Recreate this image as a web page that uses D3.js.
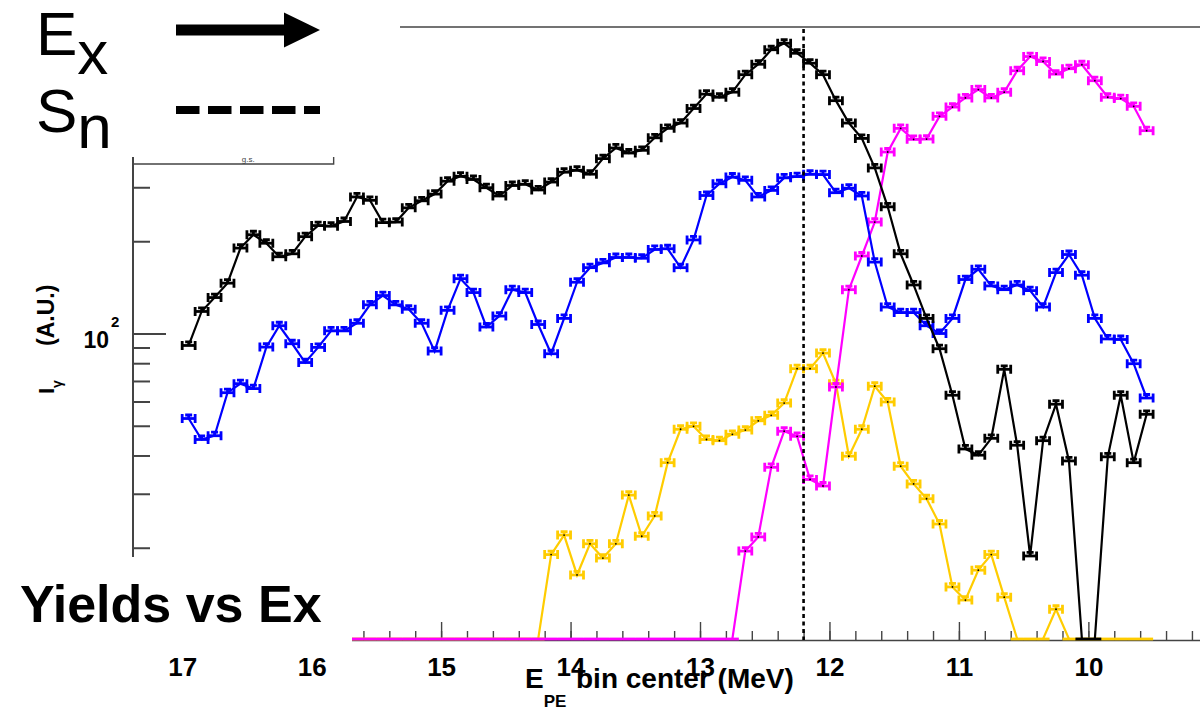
<!DOCTYPE html>
<html>
<head>
<meta charset="utf-8">
<script src="https://cdn.jsdelivr.net/npm/d3@7"></script>
<style>
  body { margin: 0; background: #fff; }
  svg { display: block; }
  text { font-family: "Liberation Sans", Arial, Helvetica, sans-serif; }
</style>
</head>
<body>
<svg id="chart" width="1200" height="711"></svg>
<script>
// bin centres of E_PE (MeV), 0.1 MeV bins
const binCenters = [16.95, 16.85, 16.75, 16.65, 16.55, 16.45, 16.35, 16.25, 16.15, 16.05,
  15.95, 15.85, 15.75, 15.65, 15.55, 15.45, 15.35, 15.25, 15.15, 15.05,
  14.95, 14.85, 14.75, 14.65, 14.55, 14.45, 14.35, 14.25, 14.15, 14.05,
  13.95, 13.85, 13.75, 13.65, 13.55, 13.45, 13.35, 13.25, 13.15, 13.05,
  12.95, 12.85, 12.75, 12.65, 12.55, 12.45, 12.35, 12.25, 12.15, 12.05,
  11.95, 11.85, 11.75, 11.65, 11.55, 11.45, 11.35, 11.25, 11.15, 11.05,
  10.95, 10.85, 10.75, 10.65, 10.55, 10.45, 10.35, 10.25, 10.15, 10.05,
  9.95, 9.85, 9.75, 9.65, 9.55];
const binWidth = 0.1;

// I_gamma (A.U.), 0 = empty bin (drawn on the floor)
const yieldBlack = [91.4, 118, 131, 146, 190, 210, 197, 178, 182, 207,
  225, 224, 232, 279, 272, 230, 231, 257, 271, 285,
  314, 326, 318, 299, 281, 304, 307, 294, 312, 336,
  341, 331, 372, 403, 388, 396, 435, 467, 486, 542,
  604, 590, 613, 699, 756, 843, 885, 821, 762, 699,
  575, 486, 433, 347, 259, 182, 144, 112, 89.2, 62.9,
  42.0, 40.1, 45.5, 76.4, 43.2, 18.8, 44.7, 58.8, 38.4, 0,
  0, 39.6, 62.9, 37.9, 54.5];

const yieldBlue = [52.8, 45.1, 46.4, 64.1, 68.6, 66.1, 90.3, 106, 92.6, 80.4,
  90.1, 102, 102, 108, 124, 133, 124, 120, 108, 87.6,
  119, 151, 136, 105, 114, 139, 136, 107, 85.9, 112,
  147, 164, 170, 177, 177, 176, 188, 189, 164, 202,
  282, 308, 324, 316, 279, 293, 322, 325, 331, 330,
  288, 298, 281, 171, 122, 117, 117, 106, 100, 112,
  150, 162, 143, 139, 144, 138, 122, 158, 181, 155,
  112, 96.0, 95.6, 79.7, 61.6];

const yieldMagenta = [0, 0, 0, 0, 0, 0, 0, 0, 0, 0,
  0, 0, 0, 0, 0, 0, 0, 0, 0, 0,
  0, 0, 0, 0, 0, 0, 0, 0, 0, 0,
  0, 0, 0, 0, 0, 0, 0, 0, 0, 0,
  0, 0, 0, 19.5, 21.7, 36.6, 48.0, 46.2, 33.4, 31.8,
  66.9, 139, 179, 231, 391, 467, 430, 431, 511, 548,
  587, 625, 587, 613, 720, 801, 772, 702, 731, 753,
  668, 590, 584, 551, 459];

const yieldGold = [0, 0, 0, 0, 0, 0, 0, 0, 0, 0,
  0, 0, 0, 0, 0, 0, 0, 0, 0, 0,
  0, 0, 0, 0, 0, 0, 0, 0, 19.0, 22.0,
  16.3, 20.6, 18.5, 20.6, 29.7, 21.8, 25.4, 37.9, 48.7, 49.8,
  45.1, 44.7, 46.9, 48.4, 51.9, 54.1, 59.3, 76.8, 76.8, 86.3,
  68.6, 39.8, 48.7, 67.3, 59.8, 36.9, 32.3, 28.9, 23.9, 14.9,
  13.5, 16.9, 19.0, 13.8, 0, 0, 0, 12.6, 0, 0,
  0, 0, 0, 0, 0];

const xLabels = [17, 16, 15, 14, 13, 12, 11, 10];
const yMinorTicks = [20, 30, 40, 50, 60, 70, 80, 90, 200, 300];
const yMajorTicks = [100];
const snEnergy = 12.2;          // neutron separation energy
const gsRange = [17.38, 15.83]; // "g.s." bracket

const svg = d3.select('#chart');

// frame: reversed energy axis, log intensity axis
const x = d3.scaleLinear().domain([17.38, 9.13]).range([133, 1201]);
const y = d3.scaleLog().domain([10, 1000]).range([640, 27]);
const floorY = y(10) - 1;
const yPos = v => v > 0 ? y(v) : floorY;

const frame = svg.append('g').attr('stroke', '#444').attr('fill', 'none');
frame.append('line') // bottom
  .attr('x1', x.range()[0]).attr('x2', x.range()[1])
  .attr('y1', y(10) + 0.5).attr('y2', y(10) + 0.5).attr('stroke-width', 1.6);
frame.append('line') // top
  .attr('x1', x.range()[0]).attr('x2', x.range()[1])
  .attr('y1', y(1000)).attr('y2', y(1000)).attr('stroke-width', 1.6);
frame.append('line') // left
  .attr('x1', x.range()[0]).attr('x2', x.range()[0])
  .attr('y1', y(1000)).attr('y2', y(10)).attr('stroke-width', 2);

// x ticks (inside, pointing up)
const minorX = d3.range(46, 87).map(k => k / 5);
const axTop = (vals, size) => d3.axisTop(x).tickValues(vals).tickSize(size).tickSizeOuter(0).tickFormat('');
[[minorX, 9], [xLabels, 18]].forEach(([vals, size]) => {
  const g = svg.append('g').attr('transform', `translate(0,${y(10)})`).call(axTop(vals, size));
  g.select('.domain').remove();
  g.selectAll('.tick line').attr('stroke', '#444').attr('stroke-width', 1.4);
});

// y ticks (inside, pointing right)
[[yMinorTicks, 17], [yMajorTicks, 33]].forEach(([vals, size]) => {
  const g = svg.append('g').attr('transform', `translate(${x.range()[0]},0)`)
    .call(d3.axisRight(y).tickValues(vals).tickSize(size).tickFormat(''));
  g.select('.domain').remove();
  g.selectAll('.tick line').attr('stroke', '#444').attr('stroke-width', 2);
});

// series
const series = [
  { name: 'gold', color: '#ffcc00', values: yieldGold, dot: true },
  { name: 'magenta', color: '#ff00ff', values: yieldMagenta, dot: true },
  { name: 'blue', color: '#0000ff', values: yieldBlue, dot: false },
  { name: 'black', color: '#000000', values: yieldBlack, dot: false }
];

const line = d3.line().x(d => x(d.e)).y(d => yPos(d.v));

series.forEach(s => {
  const pts = binCenters.map((e, i) => ({ e, v: s.values[i] }));
  const g = svg.append('g').attr('class', 's-' + s.name)
    .attr('stroke', s.color).attr('fill', 'none');

  g.append('path').datum(pts).attr('stroke-width', 2.2).attr('d', line);

  // horizontal error bars = bin width
  g.selectAll('line.hbar').data(pts).join('line')
    .attr('class', 'hbar')
    .attr('x1', d => x(d.e + binWidth / 2)).attr('x2', d => x(d.e - binWidth / 2))
    .attr('y1', d => yPos(d.v)).attr('y2', d => yPos(d.v))
    .attr('stroke-width', 2.8);

  // end caps and small vertical bar with cap
  g.selectAll('path.cap').data(pts.filter(d => d.v > 0)).join('path')
    .attr('class', 'cap')
    .attr('stroke-width', 2.8)
    .attr('d', d => {
      const xl = x(d.e + binWidth / 2), xr = x(d.e - binWidth / 2), xc = x(d.e), yy = y(d.v);
      return `M${xl},${yy - 4.5}V${yy + 4.5}M${xr},${yy - 4.5}V${yy + 4.5}` +
        `M${xc - 3.5},${yy - 3.5}H${xc + 3.5}M${xc},${yy - 3.5}V${yy}`;
    });

  if (s.dot) {
    g.selectAll('circle').data(pts.filter(d => d.v > 0)).join('circle')
      .attr('cx', d => x(d.e)).attr('cy', d => y(d.v)).attr('r', 0.9)
      .attr('stroke', 'none').attr('fill', '#000');
  }
});

// S_n dotted line
svg.append('line')
  .attr('x1', x(snEnergy)).attr('x2', x(snEnergy))
  .attr('y1', y(1000) + 2).attr('y2', y(10))
  .attr('stroke', '#000').attr('stroke-width', 2.6).attr('stroke-dasharray', '4,3.5');

// white boxes of the overlay
svg.append('rect').attr('x', 0).attr('y', 0).attr('width', 400).attr('height', 157).attr('fill', '#fff');
svg.append('rect').attr('x', 0).attr('y', 557).attr('width', 352).attr('height', 92).attr('fill', '#fff');

// g.s. bracket
const gs = svg.append('g').attr('stroke', '#444').attr('stroke-width', 1.4).attr('fill', 'none');
gs.append('path').attr('d', `M${x(gsRange[0])},164H${x(gsRange[1])}V157`);
svg.append('text').attr('x', (x(gsRange[0]) + x(gsRange[1])) / 2 + 15).attr('y', 162)
  .attr('text-anchor', 'middle').attr('font-size', 8).attr('fill', '#444').text('g.s.');

// x labels
const xl = svg.append('g').attr('transform', `translate(0,${y(10)})`)
  .call(d3.axisBottom(x).tickValues(xLabels).tickSize(0).tickPadding(18).tickFormat(d3.format('d')));
xl.select('.domain').remove();
xl.selectAll('text').attr('font-size', 26).attr('font-weight', 'bold')
  .attr('fill', '#000').attr('font-family', '"Liberation Sans", Arial, sans-serif');

// x title
const xt = svg.append('text').attr('x', 525).attr('y', 688)
  .attr('font-size', 28).attr('font-weight', 'bold');
xt.append('tspan').text('E');
xt.append('tspan').attr('font-size', 17).attr('dy', 19).text('PE');
xt.append('tspan').attr('x', 576).attr('dy', -19).text('bin center (MeV)');

// y label 10^2
svg.append('text').attr('x', 109).attr('y', y(100) + 14)
  .attr('font-size', 23).attr('font-weight', 'bold').attr('text-anchor', 'end').text('10');
svg.append('text').attr('x', 111).attr('y', y(100) - 7)
  .attr('font-size', 15).attr('font-weight', 'bold').text('2');

// y title
const yt = svg.append('text').attr('transform', 'translate(54,394) rotate(-90)')
  .attr('font-size', 22).attr('font-weight', 'bold');
yt.append('tspan').text('I');
yt.append('tspan').attr('font-size', 14).attr('dy', 8).text('γ');
yt.append('tspan').attr('x', 48).attr('dy', -8).attr('font-size', 23).text('(A.U.)');

// legend of the overlay
const lg = svg.append('g');
const ex = lg.append('text').attr('x', 36).attr('y', 55).attr('font-size', 62);
ex.append('tspan').text('E');
ex.append('tspan').attr('dy', 19).text('x');
const sn = lg.append('text').attr('x', 36).attr('y', 132).attr('font-size', 62);
sn.append('tspan').text('S');
sn.append('tspan').attr('dy', 16).text('n');
lg.append('rect').attr('x', 176).attr('y', 24.5).attr('width', 110).attr('height', 11).attr('fill', '#000');
lg.append('path').attr('d', 'M284,12.5L320,30L284,47.5Z').attr('fill', '#000');
lg.append('line').attr('x1', 176).attr('x2', 320).attr('y1', 110).attr('y2', 110)
  .attr('stroke', '#000').attr('stroke-width', 8).attr('stroke-dasharray', '23.5,8.5');

svg.append('text').attr('x', 20).attr('y', 622)
  .attr('font-size', 52).attr('font-weight', 'bold').text('Yields vs Ex');
</script>
</body>
</html>
